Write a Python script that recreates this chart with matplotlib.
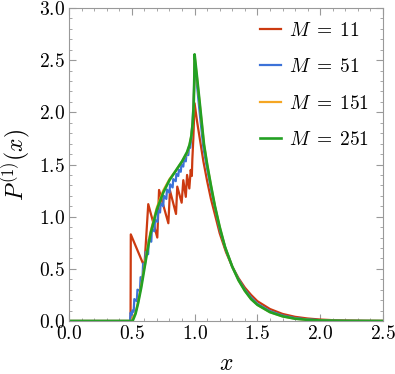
import numpy as np
import matplotlib
matplotlib.use('Agg')
import matplotlib.pyplot as plt
from matplotlib.ticker import MultipleLocator, FuncFormatter

plt.rcParams['mathtext.fontset'] = 'cm'
plt.rcParams['font.family'] = 'serif'

# Curvas
x_11 = [0.0, 0.49, 0.492, 0.60, 0.631, 0.703, 0.717, 0.791, 0.804, 0.852, 0.862,
        0.897, 0.91, 0.93, 0.94, 0.958, 0.969, 0.978, 0.982, 0.99, 1.0,
        1.02, 1.043, 1.07, 1.1, 1.13, 1.162, 1.2, 1.25, 1.3, 1.35, 1.4, 1.45,
        1.5, 1.6, 1.7, 1.8, 1.9, 2.0, 2.1, 2.2, 2.35, 2.5]
y_11 = [0.0, 0.0, 0.83, 0.52, 1.12, 0.80, 1.256, 0.937, 1.25, 1.026, 1.288,
        1.134, 1.35, 1.19, 1.40, 1.27, 1.448, 1.39, 1.55, 1.75, 2.087,
        1.91, 1.735, 1.53, 1.34, 1.17, 1.02, 0.84, 0.66, 0.52, 0.41, 0.32, 0.25,
        0.19, 0.115, 0.068, 0.04, 0.024, 0.014, 0.008, 0.005, 0.002, 0.001]

x_51 = [0.0, 0.486, 0.49, 0.50, 0.505, 0.515, 0.52, 0.54, 0.545, 0.565, 0.57,
        0.585, 0.59, 0.605, 0.61, 0.63, 0.635, 0.655, 0.66, 0.68, 0.685, 0.705,
        0.71, 0.725, 0.73, 0.75, 0.755, 0.775, 0.78, 0.80, 0.805, 0.825, 0.83,
        0.85, 0.855, 0.87, 0.875, 0.89, 0.895, 0.91, 0.915, 0.93, 0.935, 0.95,
        0.955, 0.965, 0.975, 0.985, 0.995, 1.0,
        1.02, 1.04, 1.07, 1.1, 1.13, 1.16, 1.2, 1.25, 1.3, 1.35, 1.4, 1.45,
        1.5, 1.6, 1.7, 1.8, 1.9, 2.0, 2.2, 2.5]
y_51 = [0.0, 0.0, 0.08, 0.06, 0.10, 0.09, 0.21, 0.19, 0.30, 0.29, 0.42,
        0.41, 0.55, 0.54, 0.66, 0.64, 0.78, 0.76, 0.88, 0.86, 0.97, 0.95,
        1.06, 1.04, 1.13, 1.10, 1.20, 1.17, 1.26, 1.23, 1.31, 1.28, 1.36,
        1.34, 1.41, 1.39, 1.45, 1.43, 1.50, 1.48, 1.55, 1.53, 1.60, 1.59,
        1.66, 1.66, 1.78, 1.93, 2.2, 2.49,
        2.25, 2.0, 1.66, 1.46, 1.27, 1.10, 0.88, 0.68, 0.52, 0.40, 0.30, 0.225,
        0.165, 0.095, 0.053, 0.028, 0.015, 0.008, 0.002, 0.0]

x_151 = [0.0, 0.5, 0.505, 0.53, 0.55, 0.575, 0.6, 0.625, 0.65, 0.7, 0.75, 0.8,
         0.85, 0.9, 0.94, 0.96, 0.975, 0.985, 0.993, 0.998, 1.0,
         1.02, 1.04, 1.075, 1.1, 1.13, 1.162, 1.2, 1.242, 1.3, 1.35, 1.4, 1.45,
         1.5, 1.6, 1.7, 1.8, 1.9, 2.0, 2.2, 2.5]
y_151 = [0.0, 0.0, 0.02, 0.08, 0.18, 0.34, 0.52, 0.70, 0.86, 1.09, 1.25, 1.36,
         1.44, 1.53, 1.61, 1.69, 1.78, 1.90, 2.08, 2.33, 2.54,
         2.32, 2.09, 1.69, 1.50, 1.30, 1.10, 0.90, 0.71, 0.52, 0.39, 0.29, 0.21,
         0.155, 0.085, 0.045, 0.022, 0.011, 0.005, 0.001, 0.0]

x_251 = [0.0, 0.5, 0.51, 0.53, 0.55, 0.575, 0.6, 0.625, 0.65, 0.7, 0.75, 0.8,
         0.85, 0.9, 0.94, 0.96, 0.975, 0.985, 0.993, 0.998, 1.0,
         1.02, 1.04, 1.075, 1.1, 1.13, 1.162, 1.2, 1.242, 1.3, 1.35, 1.4, 1.45,
         1.5, 1.6, 1.7, 1.8, 1.9, 2.0, 2.2, 2.5]
y_251 = [0.0, 0.0, 0.01, 0.07, 0.17, 0.32, 0.50, 0.68, 0.84, 1.07, 1.23, 1.35,
         1.44, 1.53, 1.62, 1.69, 1.78, 1.90, 2.08, 2.35, 2.556,
         2.33, 2.10, 1.69, 1.50, 1.30, 1.10, 0.90, 0.71, 0.52, 0.39, 0.29, 0.21,
         0.155, 0.085, 0.045, 0.022, 0.011, 0.005, 0.001, 0.0]

labels = [r'$M\;=\;11$', r'$M\;=\;51$', r'$M\;=\;151$', r'$M\;=\;251$']
colors = ['#cc3a10', '#3c72d8', '#f5a623', '#23a023']

fig = plt.figure(figsize=(3.95, 3.74), dpi=100)
ax = fig.add_axes([69/395, 1 - 321/374, (383 - 69)/395, (321 - 8)/374])

series = [(x_11, y_11), (x_51, y_51), (x_151, y_151), (x_251, y_251)]
for (xs, ys), lab, col in zip(series, labels, colors):
    ax.plot(xs, ys, color=col, lw=1.6 if col != colors[3] else 1.9, label=lab)

ax.set_xlim(0, 2.5)
ax.set_ylim(0, 3.0)
ax.xaxis.set_major_locator(MultipleLocator(0.5))
ax.yaxis.set_major_locator(MultipleLocator(0.5))
ax.xaxis.set_minor_locator(MultipleLocator(0.1))
ax.yaxis.set_minor_locator(MultipleLocator(0.1))
fmt = FuncFormatter(lambda v, p: r'$%.1f$' % v)
ax.xaxis.set_major_formatter(fmt)
ax.yaxis.set_major_formatter(fmt)

ax.tick_params(which='both', direction='in', top=True, right=True,
               color='#999999', labelsize=14)
ax.tick_params(which='major', length=5, width=0.8, pad=3)
ax.tick_params(which='minor', length=2.5, width=0.6)
for s in ax.spines.values():
    s.set_color('#999999')
    s.set_linewidth(0.8)

ax.set_xlabel(r'$x$', fontsize=17, labelpad=6)
ax.set_ylabel(r'$P^{(1)}(x)$', fontsize=17, labelpad=4)

ax.legend(loc='upper right', frameon=False, fontsize=14, handlelength=1.05,
          handletextpad=0.45, labelspacing=0.95, borderaxespad=0.3)

fig.savefig('out.png', dpi=100)
